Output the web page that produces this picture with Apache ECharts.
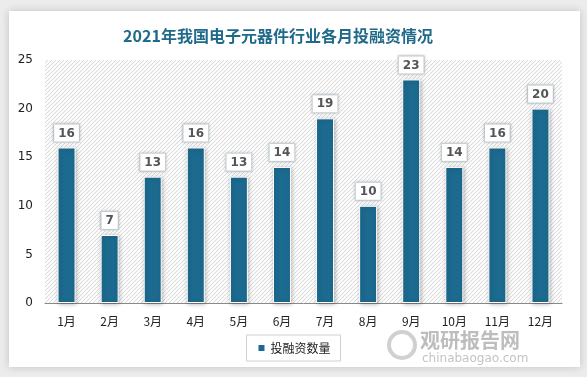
<!DOCTYPE html>
<html><head><meta charset="utf-8">
<script src="https://cdn.jsdelivr.net/npm/echarts@6/dist/echarts.min.js"></script>
<style>html,body{margin:0;padding:0;background:#ececec;}#c{width:587px;height:377px;}</style>
</head><body><div id="c"></div>
<script>
const categories = ['1月','2月','3月','4月','5月','6月','7月','8月','9月','10月','11月','12月'];
const values = [16,7,13,16,13,14,19,10,23,14,16,20];
const seriesName = '投融资数量';
const yTicks = [0,5,10,15,20,25];

const pc = document.createElement('canvas');
pc.width = 4; pc.height = 4;
const g = pc.getContext('2d');
g.fillStyle = '#fbfbfb'; g.fillRect(0,0,4,4);
g.strokeStyle = '#dadada'; g.lineWidth = 1;
g.beginPath(); g.moveTo(0,4); g.lineTo(4,0); g.moveTo(-1,1); g.lineTo(1,-1); g.moveTo(3,5); g.lineTo(5,3); g.stroke();

const chart = echarts.init(document.getElementById('c'), null, {renderer:'canvas'});
chart.setOption({
  animation:false,
  backgroundColor:'#ececec',
  graphic:[
    {type:'rect', z:-10, shape:{x:9,y:11,width:571,height:356}, style:{fill:'#ffffff', shadowBlur:8, shadowColor:'rgba(0,0,0,0.18)'}},
    {type:'text', left:420, top:330, style:{text:'观研报告网', fill:'#bdbdbd', font:'bold 20px "Noto Sans CJK SC"'}},
    {type:'text', left:422, top:353, style:{text:'chinabaogao.com', fill:'#c4c4c4', font:'12px "DejaVu Sans"'}},
    {type:'circle', shape:{cx:402,cy:345,r:13}, style:{fill:'none', stroke:'#d0d0d0', lineWidth:4}}
  ],
  title:{text:'2021年我国电子元器件行业各月投融资情况', left:273, top:23, textAlign:'center',
    textStyle:{color:'#1f6a8a', fontSize:16, fontWeight:'bold', fontFamily:'"Noto Sans CJK SC"'}},
  grid:{left:45, right:25, top:60, bottom:74, show:true, borderWidth:0,
    backgroundColor:{image:pc, repeat:'repeat'}},
  legend:{bottom:16, left:'center', itemWidth:8, itemHeight:8, icon:'rect',
    padding:[7,10,7,10], borderColor:'#d0d0d0', borderWidth:1,
    textStyle:{fontSize:12, color:'#222', fontFamily:'"Noto Sans CJK SC"'}, data:[seriesName]},
  xAxis:{type:'category', data:categories,
    axisLine:{lineStyle:{color:'#8a8a8a', width:1}}, axisTick:{show:false},
    axisLabel:{color:'#222', fontSize:12, margin:12, fontFamily:'"Noto Sans CJK SC"'}},
  yAxis:{type:'value', min:0, max:25, interval:5,
    axisLine:{show:false}, axisTick:{show:false}, splitLine:{show:false},
    axisLabel:{color:'#222', fontSize:12, margin:12, fontFamily:'"DejaVu Sans"',
      formatter:v=>yTicks.includes(v)?String(v):''}},
  series:[{name:seriesName, type:'bar', data:values, barWidth:18,
    itemStyle:{color:'#1c6a8f', borderColor:'#ffffff', borderWidth:1, shadowBlur:4, shadowColor:'rgba(0,0,0,0.25)', shadowOffsetX:1, shadowOffsetY:1},
    label:{show:true, position:'top', distance:6, color:'#555', fontWeight:'bold', fontSize:12,
      fontFamily:'"DejaVu Sans"', backgroundColor:'#ffffff', borderColor:'#c9d6de', borderWidth:1,
      padding:[3,4,2,4], shadowBlur:3, shadowColor:'rgba(0,0,0,0.2)'}}]
});
</script></body></html>
